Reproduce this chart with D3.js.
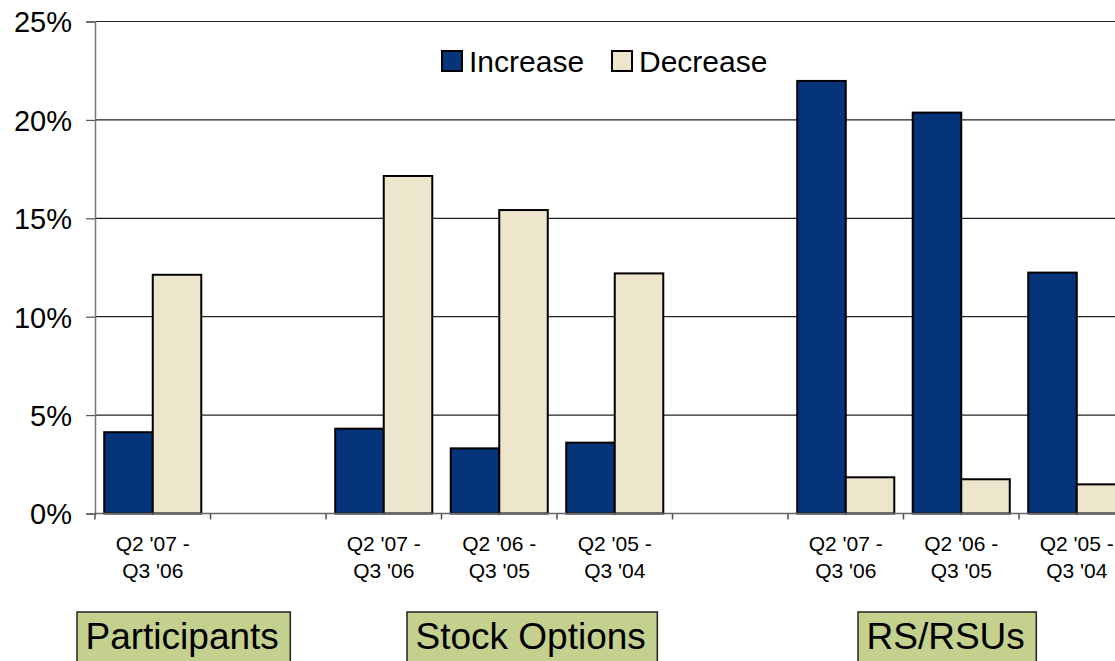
<!DOCTYPE html>
<html>
<head>
<meta charset="utf-8">
<script src="https://cdn.jsdelivr.net/npm/d3@7"></script>
<style>
  html, body { margin: 0; padding: 0; background: #fff; overflow: hidden; }
  svg { display: block; font-family: "Liberation Sans", Arial, sans-serif; }
</style>
</head>
<body>
<svg id="chart" width="1115" height="661"></svg>
<script>
// ---- data ----
const categoriesLine1 = ["Q2 '07 -", "", "Q2 '07 -", "Q2 '06 -", "Q2 '05 -", "", "Q2 '07 -", "Q2 '06 -", "Q2 '05 -"];
const categoriesLine2 = ["Q3 '06", "", "Q3 '06", "Q3 '05", "Q3 '04", "", "Q3 '06", "Q3 '05", "Q3 '04"];
const increaseValues = [4.13, null, 4.31, 3.31, 3.60, null, 21.98, 20.37, 12.24];
const decreaseValues = [12.13, null, 17.15, 15.42, 12.20, null, 1.84, 1.74, 1.48];
const seriesNames = ["Increase", "Decrease"];
const yTicks = [0, 5, 10, 15, 20, 25];
const groupLabels = ["Participants", "Stock Options", "RS/RSUs"];

// ---- layout ----
const svg = d3.select("#chart");
const plotLeft = 95, plotTop = 21.5, plotBottom = 513.5;
const slotStep = 115.5;
const colors = { Increase: "#06347a", Decrease: "#ede5cc" };
const green = "#c4d08e";
const FONT = "'Liberation Sans', Arial, sans-serif";

const idx = d3.range(categoriesLine1.length);
const x = d3.scaleBand().domain(idx).range([plotLeft, plotLeft + slotStep * idx.length]).padding(0);
const xi = d3.scaleBand().domain(seriesNames).range([0, x.bandwidth()]).paddingInner(0).paddingOuter(0.19);
const y = d3.scaleLinear().domain([0, 25]).range([plotBottom, plotTop]);

// gridlines
svg.append("g").selectAll("line").data(yTicks.filter(d => d > 0)).join("line")
  .attr("x1", plotLeft).attr("x2", 1115)
  .attr("y1", d => y(d)).attr("y2", d => y(d))
  .attr("stroke", "#222").attr("stroke-width", 1.2);

// y axis
const yAxis = svg.append("g").attr("transform", `translate(${plotLeft},0)`)
  .call(d3.axisLeft(y).tickValues(yTicks).tickSize(9).tickFormat(d => d + "%"));
yAxis.attr("font-family", FONT);
yAxis.select(".domain").attr("stroke", "#777").attr("stroke-width", 1.5);
yAxis.selectAll(".tick line").attr("stroke", "#555").attr("stroke-width", 1.2);
yAxis.selectAll(".tick text").attr("x", -23).attr("dy", "0.36em")
  .attr("font-size", 29).attr("fill", "#000");

// bars
const rows = idx.filter(i => increaseValues[i] !== null).flatMap(i => [
  { i, s: "Increase", v: increaseValues[i] },
  { i, s: "Decrease", v: decreaseValues[i] }
]);
svg.append("g").selectAll("rect").data(rows).join("rect")
  .attr("x", d => x(d.i) + xi(d.s))
  .attr("width", xi.bandwidth())
  .attr("y", d => y(d.v))
  .attr("height", d => y(0) - y(d.v))
  .attr("fill", d => colors[d.s])
  .attr("stroke", "#000").attr("stroke-width", 2);

// x axis
const xAxisG = svg.append("g").attr("transform", `translate(0,${plotBottom})`);
xAxisG.append("line").attr("x1", plotLeft).attr("x2", 1115).attr("y1", 0).attr("y2", 0)
  .attr("stroke", "#666").attr("stroke-width", 1.5);
xAxisG.selectAll("line.tk").data(d3.range(idx.length + 1)).join("line").attr("class", "tk")
  .attr("x1", d => plotLeft + d * x.step()).attr("x2", d => plotLeft + d * x.step())
  .attr("y1", 0).attr("y2", 6).attr("stroke", "#555").attr("stroke-width", 1.5);
const lbl = xAxisG.selectAll("text").data(idx).join("text")
  .attr("text-anchor", "middle").attr("font-size", 21).attr("fill", "#000");
lbl.append("tspan").attr("x", d => x(d) + x.bandwidth() / 2).attr("y", 37).text(d => categoriesLine1[d]);
lbl.append("tspan").attr("x", d => x(d) + x.bandwidth() / 2).attr("y", 64).text(d => categoriesLine2[d]);

// legend
const legend = svg.append("g");
const legendPos = [442, 612];
seriesNames.forEach((s, k) => {
  const g = legend.append("g").attr("transform", `translate(${legendPos[k]},51)`);
  g.append("rect").attr("width", 20).attr("height", 20).attr("fill", colors[s]).attr("stroke", "#000").attr("stroke-width", 2);
  g.append("text").attr("x", 27).attr("y", 20.5).attr("font-size", 30).attr("fill", "#000").text(s);
});

// group labels
const groupLeft = [77, 407, 858];
groupLabels.forEach((t, k) => {
  const g = svg.append("g");
  const r = g.append("rect").attr("x", groupLeft[k]).attr("y", 612).attr("height", 60)
    .attr("fill", green).attr("stroke", "#222").attr("stroke-width", 1.5);
  const tx = g.append("text").attr("x", groupLeft[k] + 8.5).attr("y", 649)
    .attr("font-size", 37).attr("fill", "#000").text(t);
  const w = tx.node().getComputedTextLength();
  r.attr("width", w + 20);
});
</script>
</body>
</html>
